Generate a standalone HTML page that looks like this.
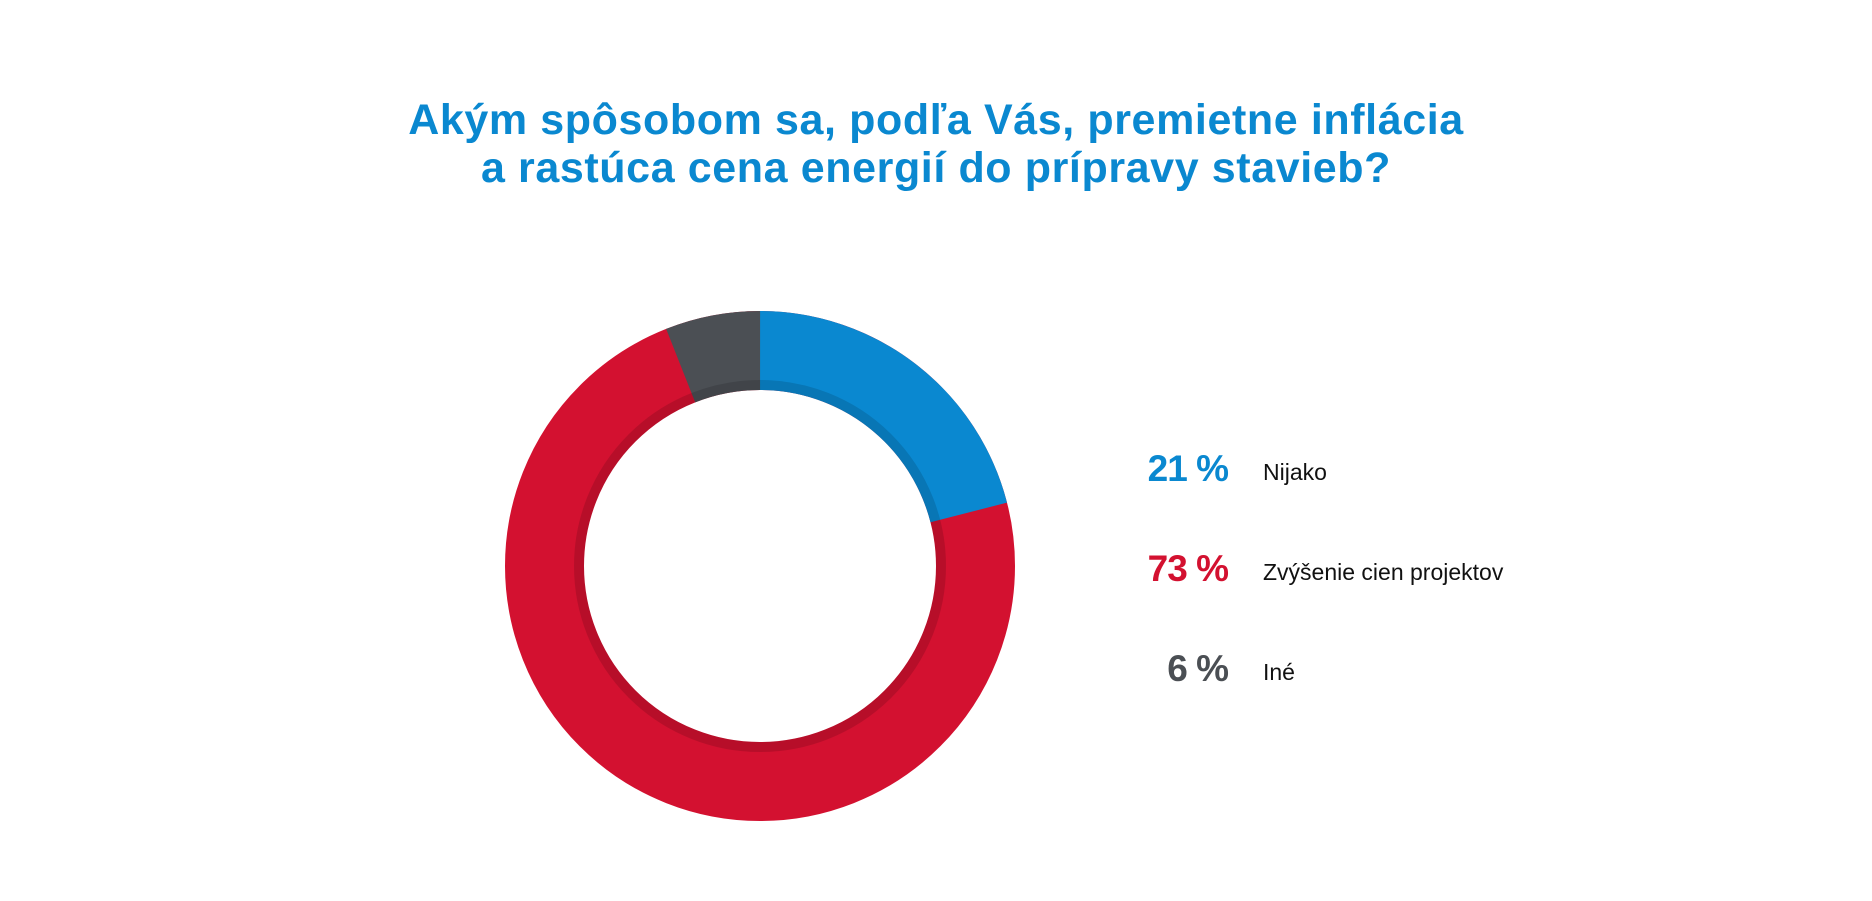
<!DOCTYPE html>
<html><head><meta charset="utf-8"><style>
body{margin:0;width:1872px;height:901px;background:#fff;overflow:hidden;font-family:"Liberation Sans",sans-serif;}
.t{position:absolute;left:0;width:1872px;text-align:center;color:#0a88d0;font-weight:bold;font-size:43px;line-height:48px;letter-spacing:0.6px}
.p{position:absolute;width:200px;text-align:right;font-weight:bold;font-size:37px;letter-spacing:-1px}
.l{position:absolute;font-size:23px;color:#111}
</style></head><body>
<div class="t" style="top:96px">Akým spôsobom sa, podľa Vás, premietne inflácia<br>a rastúca cena energií do prípravy stavieb?</div>
<svg width="1872" height="901" style="position:absolute;left:0;top:0">
<g transform="translate(760,566)">
<circle r="215.5" fill="none" stroke="#d31130" stroke-width="79"/>
<circle r="215.5" fill="none" stroke="#0a88d0" stroke-width="79" stroke-dasharray="284.3 2000" transform="rotate(-90)"/>
<circle r="215.5" fill="none" stroke="#4b4f54" stroke-width="79" stroke-dasharray="81.3 2000" transform="rotate(-111.6)"/>
<circle r="181" fill="none" stroke="#000" stroke-opacity="0.13" stroke-width="10"/>
</g></svg>
<div class="p" style="left:1028px;top:448px;color:#0a88d0">21 %</div>
<div class="l" style="left:1263px;top:459px">Nijako</div>
<div class="p" style="left:1028px;top:548px;color:#d31130">73 %</div>
<div class="l" style="left:1263px;top:559px">Zvýšenie cien projektov</div>
<div class="p" style="left:1028px;top:648px;color:#4b4f54">6 %</div>
<div class="l" style="left:1263px;top:659px">Iné</div>
</body></html>
